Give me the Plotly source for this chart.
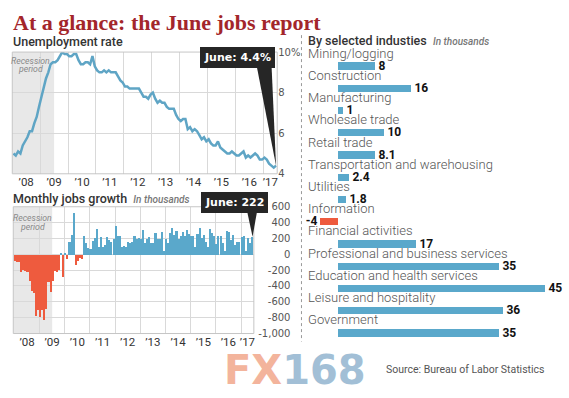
import plotly.graph_objects as go

W, H = 569, 398

# ---------------- data ----------------
start_year = 2008  # first month: Jan 2008, monthly through Jun 2017
unemployment = [
    5.0, 4.9, 5.1, 5.0, 5.4, 5.6, 5.8, 6.1, 6.1, 6.5, 6.8, 7.3,
    7.8, 8.3, 8.7, 9.0, 9.4, 9.5, 9.5, 9.6, 9.8, 10.0, 9.9, 9.9,
    9.8, 9.8, 9.9, 9.9, 9.6, 9.4, 9.4, 9.5, 9.5, 9.4, 9.8, 9.3,
    9.1, 9.0, 9.0, 9.1, 9.0, 9.1, 9.0, 9.0, 9.0, 8.8, 8.6, 8.5,
    8.3, 8.3, 8.2, 8.2, 8.2, 8.2, 8.2, 8.0, 7.8, 7.8, 7.7, 7.9,
    8.0, 7.7, 7.5, 7.6, 7.5, 7.5, 7.3, 7.2, 7.2, 7.2, 6.9, 6.7,
    6.6, 6.7, 6.7, 6.2, 6.3, 6.1, 6.2, 6.1, 5.9, 5.7, 5.8, 5.6,
    5.7, 5.5, 5.4, 5.4, 5.6, 5.3, 5.2, 5.1, 5.0, 5.0, 5.1, 5.0,
    4.9, 4.9, 5.0, 5.1, 4.8, 4.9, 4.8, 4.9, 5.0, 4.9, 4.7, 4.7,
    4.8, 4.7, 4.5, 4.4, 4.3, 4.4,
]
jobs = [
    -80, -90, -90, -220, -200, -210, -220, -340, -460, -480, -770, -700,
    -790, -700, -830, -690, -350, -470, -340, -210, -220, -200, 10, -280,
    20, -50, 160, 250, 520, -130, -80, -40, -60, 240, 140, 80,
    70, 170, 210, 320, 100, 220, 100, 120, 220, 180, 160, 200,
    360, 230, 240, 100, 110, 90, 160, 150, 160, 230, 200, 210,
    190, 310, 140, 190, 220, 150, 140, 270, 190, 190, 290, 50,
    190, 150, 270, 330, 250, 300, 200, 230, 280, 230, 310, 260,
    230, 240, 90, 260, 340, 210, 250, 160, 100, 320, 270, 240,
    130, 240, 230, 150, 40, 300, 290, 180, 250, 120, 160, 160,
    220, 230, 50, 210, 150, 222,
]
year_labels = ["’08", "’09", "’10", "’11", "’12", "’13", "’14", "’15", "’16", "’17"]
recession_start = (2007, 12)
recession_end = (2009, 6)

industries = [
    "Mining/logging", "Construction", "Manufacturing", "Wholesale trade",
    "Retail trade", "Transportation and warehousing", "Utilities", "Information",
    "Financial activities", "Professional and business services",
    "Education and health services", "Leisure and hospitality", "Government",
]
industry_change = [8, 16, 1, 10, 8.1, 2.4, 1.8, -4, 17, 35, 45, 36, 35]

unemp_ticks = [4, 6, 8, 10]
unemp_ticktext = ["4", "6", "8", "10%"]
jobs_ticks = [-1000, -800, -600, -400, -200, 0, 200, 400, 600]

# ---------------- helpers / styles ----------------
BLUE = "#5aa8cb"
RED = "#ee5b3e"
LINE = "#5fa5c5"
GRID = "#d9d9d9"
FRAME = "#c6c6c6"


def pxx(x):
    return x / W


def pxy(y):
    return 1 - y / H


def to_paper(v, rng, dom):
    return dom[0] + (v - rng[0]) / (rng[1] - rng[0]) * (dom[1] - dom[0])


x_month = [start_year + (i + 0.5) / 12 for i in range(len(unemployment))]
x_month_jobs = [start_year + (i + 0.5) / 12 for i in range(len(jobs))]
rec0 = recession_start[0] + (recession_start[1] - 1) / 12
rec1 = recession_end[0] + recession_end[1] / 12
years = [start_year + i for i in range(len(year_labels))]

# axis geometry
xd1 = [pxx(12.3), pxx(277.7)]
yd1 = [pxy(173), pxy(47.5)]
xr1 = [2008.0, 2017.5]
yr1 = [4, 10]

xd2 = [pxx(13.3), pxx(254.3)]
yd2 = [pxy(337.7), pxy(207)]
xr2 = [2007.955, 2017.51]
yr2 = [-1000, 600]

zero_px, unit_px = 339, 4.6
xd3 = [pxx(308), pxx(565)]
xr3 = [(308 - zero_px) / unit_px, (565 - zero_px) / unit_px]
yd3 = [pxy(348.5), pxy(50.5)]


def label_pos(rng):
    return [(max(y, rng[0]) + min(y + 1, rng[1])) / 2 for y in years]


fig = go.Figure()

fig.add_trace(go.Scatter(
    x=x_month, y=unemployment, mode="lines",
    line=dict(color=LINE, width=2.5), xaxis="x", yaxis="y",
    hoverinfo="skip", showlegend=False,
))

fig.add_trace(go.Bar(
    x=x_month_jobs, y=jobs, width=0.75 / 12,
    marker=dict(color=[BLUE if v >= 0 else RED for v in jobs], line=dict(width=0)),
    xaxis="x2", yaxis="y2", showlegend=False, hoverinfo="skip",
))

fig.add_trace(go.Bar(
    y=industries, x=industry_change, orientation="h", width=0.33,
    marker=dict(color=[BLUE if v >= 0 else RED for v in industry_change], line=dict(width=0)),
    text=[f"{v:g}" for v in industry_change], textposition="outside",
    constraintext="none", cliponaxis=False,
    textfont=dict(family="Roboto", size=12, color="#111", weight="bold"),
    xaxis="x3", yaxis="y3", showlegend=False, hoverinfo="skip",
))

tickfont_x = dict(family="Roboto", size=11.5, color="#333")
tickfont_y = dict(family="DejaVu Sans", size=10, color="#555")

fig.update_layout(
    width=W, height=H, autosize=False,
    margin=dict(l=0, r=0, t=0, b=0),
    paper_bgcolor="white", plot_bgcolor="white",
    bargap=0,
    xaxis=dict(
        domain=xd1, range=xr1, anchor="y",
        tickmode="array", tickvals=label_pos(xr1), ticktext=year_labels,
        showgrid=False, zeroline=False, ticks="", tickfont=tickfont_x,
        minor=dict(tickmode="array", tickvals=years[1:], showgrid=True,
                   gridcolor=GRID, gridwidth=1, ticks=""),
    ),
    yaxis=dict(
        domain=yd1, range=yr1, anchor="x", side="right",
        tickmode="array", tickvals=unemp_ticks, ticktext=unemp_ticktext,
        showgrid=True, gridcolor=GRID, zeroline=False, ticks="", tickfont=tickfont_y,
    ),
    xaxis2=dict(
        domain=xd2, range=xr2, anchor="y2",
        tickmode="array", tickvals=label_pos(xr2), ticktext=year_labels,
        showgrid=False, zeroline=False, ticks="", tickfont=tickfont_x,
        minor=dict(tickmode="array", tickvals=years[1:], showgrid=True,
                   gridcolor=GRID, gridwidth=1, ticks=""),
    ),
    yaxis2=dict(
        domain=yd2, range=yr2, anchor="free", position=pxx(291), side="left",
        tickmode="array", tickvals=jobs_ticks, ticktext=[f"{v:,}" for v in jobs_ticks],
        showgrid=True, gridcolor=GRID, zeroline=False, ticks="", tickfont=tickfont_y,
    ),
    xaxis3=dict(domain=xd3, range=xr3, anchor="y3", visible=False),
    yaxis3=dict(domain=yd3, range=[len(industries) - 0.5, -0.5], anchor="x3",
                type="category", visible=False),
)

shapes = [
    # recession shading
    dict(type="rect", xref="x", yref="y domain", x0=rec0, x1=rec1, y0=0, y1=1,
         fillcolor="#e8e8e8", line=dict(width=0), layer="below"),
    dict(type="rect", xref="x2", yref="y2 domain", x0=rec0, x1=rec1, y0=0, y1=1,
         fillcolor="#e8e8e8", line=dict(width=0), layer="below"),
    # frames
    dict(type="rect", xref="x domain", yref="y domain", x0=0, x1=1, y0=0, y1=1,
         line=dict(color=FRAME, width=1), fillcolor="rgba(0,0,0,0)", layer="above"),
    dict(type="rect", xref="x2 domain", yref="y2 domain", x0=0, x1=1, y0=0, y1=1,
         line=dict(color=FRAME, width=1), fillcolor="rgba(0,0,0,0)", layer="above"),
    # dotted separator
    dict(type="line", xref="paper", yref="paper", x0=pxx(302), x1=pxx(302),
         y0=pxy(30), y1=pxy(346), line=dict(color="#9a9a9a", width=1, dash="dot")),
]

# callout wedges (tip at last data point)
tip1 = (to_paper(x_month[-1], xr1, xd1), to_paper(unemployment[-1], yr1, yd1))
shapes.append(dict(
    type="path", xref="paper", yref="paper",
    path=f"M {pxx(257)},{pxy(61)} L {pxx(272)},{pxy(61)} L {tip1[0]},{tip1[1]} Z",
    fillcolor="#262626", line=dict(width=0), layer="above"))
tip2 = (to_paper(x_month_jobs[-1], xr2, xd2), to_paper(jobs[-1], yr2, yd2))
shapes.append(dict(
    type="path", xref="paper", yref="paper",
    path=f"M {pxx(247)},{pxy(209)} L {pxx(258)},{pxy(209)} L {tip2[0]},{tip2[1]} Z",
    fillcolor="#262626", line=dict(width=0), layer="above"))

fig.update_layout(shapes=shapes)

ann = []


def text(x, y, s, size, color="#333", family="Roboto", xanchor="left",
         yanchor="middle", weight="normal", style="normal", **kw):
    ann.append(dict(x=pxx(x), y=pxy(y), xref="paper", yref="paper", text=s,
                    showarrow=False, xanchor=xanchor, yanchor=yanchor,
                    font=dict(family=family, size=size, color=color,
                              weight=weight, style=style), **kw))


text(11, 17, "At a glance: the June jobs report", 22, color="#a3262b",
     family="Liberation Serif", weight="bold")
text(11, 37, "Unemployment rate", 12.5, color="#333", weight=500)
text(11, 198, "Monthly jobs growth  <i><span style='font-size:10px;color:#777'>"
     "In thousands</span></i>", 12.5, color="#333", weight=500)
text(307, 36, "By selected industies  <i><span style='font-size:10px;color:#777'>"
     "In thousands</span></i>", 12.5, color="#333", weight=500)

for cx, y0 in ((31, 56.5), (33, 219)):
    text(cx, y0, "Recession", 8.7, color="#888", xanchor="center", style="italic")
    text(cx, y0 + 8.5, "period", 8.7, color="#888", xanchor="center", style="italic")

# callout boxes
box = dict(bgcolor="#262626", bordercolor="#262626", borderpad=3)
text(238, 53.5, "June: 4.4%", 11, color="white", family="DejaVu Sans",
     xanchor="center", weight="bold", **box)
text(234.5, 202.5, "June: 222", 11, color="white", family="DejaVu Sans",
     xanchor="center", weight="bold", **box)

# industry labels
for name in industries:
    ann.append(dict(x=pxx(307), y=name, xref="paper", yref="y3", yshift=13,
                    text=name, showarrow=False, xanchor="left", yanchor="middle",
                    font=dict(family="Roboto", size=13, color="#555", weight=300)))

text(296, 375.5, "<span style='color:#f3b49c'>FX</span>"
     "<span style='color:#a2bfd6'>168</span>", 40, family="DejaVu Sans",
     xanchor="center", weight="bold")
text(385, 375, "Source: Bureau of Labor Statistics", 10.5, color="#555")

fig.update_layout(annotations=ann)

fig.write_html(
    "out.html",
    config={"displayModeBar": False},
    post_script="document.body.style.margin='0px';document.body.style.padding='0px';",
)
